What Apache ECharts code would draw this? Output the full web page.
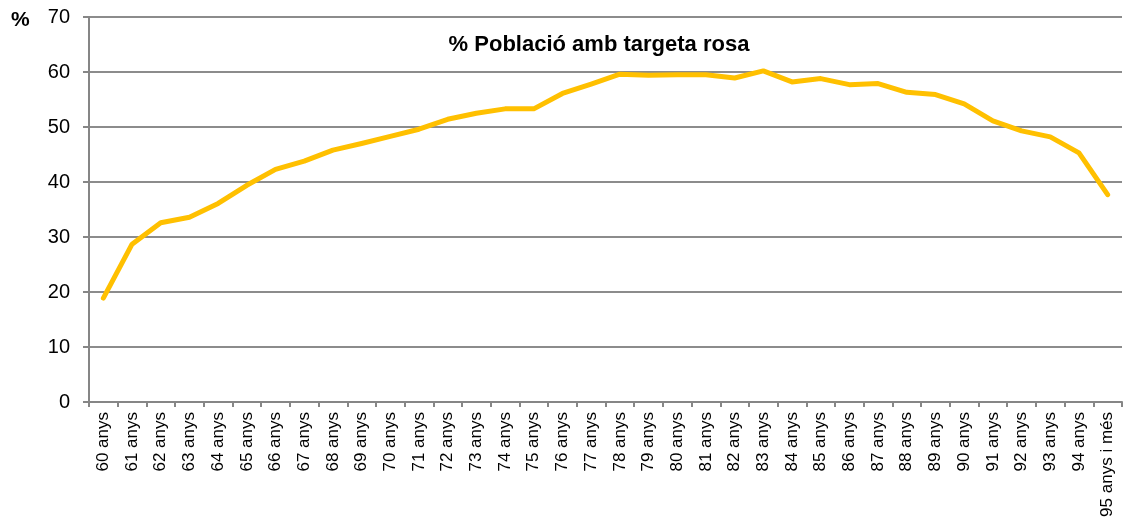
<!DOCTYPE html>
<html>
<head>
<meta charset="utf-8">
<script src="https://cdn.jsdelivr.net/npm/echarts@6/dist/echarts.min.js"></script>
<style>
html,body{margin:0;padding:0;background:#fff;}
#chart{width:1123px;height:528px;}
</style>
</head>
<body>
<div id="chart"></div>
<script>
const categories = ['60 anys','61 anys','62 anys','63 anys','64 anys','65 anys','66 anys','67 anys','68 anys','69 anys',
  '70 anys','71 anys','72 anys','73 anys','74 anys','75 anys','76 anys','77 anys','78 anys','79 anys',
  '80 anys','81 anys','82 anys','83 anys','84 anys','85 anys','86 anys','87 anys','88 anys','89 anys',
  '90 anys','91 anys','92 anys','93 anys','94 anys','95 anys i més'];
const values = [18.9, 28.7, 32.6, 33.6, 36.1, 39.4, 42.3, 43.8, 45.8, 47.0,
  48.3, 49.6, 51.4, 52.5, 53.3, 53.3, 56.1, 57.8, 59.6, 59.4,
  59.5, 59.5, 58.9, 60.2, 58.2, 58.8, 57.7, 57.9, 56.3, 55.9,
  54.2, 51.1, 49.3, 48.2, 45.3, 37.7];
const titleText = '% Població amb targeta rosa';
const yUnit = '%';
const yMin = 0, yMax = 70, yStep = 10;

const font = '"Liberation Sans", Arial, sans-serif';
const chart = echarts.init(document.getElementById('chart'), null, {renderer: 'canvas'});
chart.setOption({
  animation: false,
  backgroundColor: '#ffffff',
  title: {
    text: titleText,
    left: 599,
    textAlign: 'center',
    top: 34,
    padding: 0,
    textStyle: {fontFamily: font, fontSize: 22, fontWeight: 'bold', color: '#000'}
  },
  graphic: [{
    type: 'text',
    left: 11,
    top: 10,
    style: {text: yUnit, fontFamily: font, fontSize: 21, fontWeight: 'bold', fill: '#000'}
  }],
  grid: {left: 89, right: 1, top: 17, bottom: 126, containLabel: false},
  xAxis: {
    type: 'category',
    data: categories,
    boundaryGap: true,
    axisLine: {show: true, lineStyle: {color: '#868686', width: 2}},
    axisTick: {show: true, alignWithLabel: false, length: 5, lineStyle: {color: '#868686', width: 2}},
    axisLabel: {rotate: 90, interval: 0, margin: 10, fontFamily: font, fontSize: 17, color: '#000'},
    splitLine: {show: false}
  },
  yAxis: {
    type: 'value',
    min: yMin, max: yMax, interval: yStep,
    axisLine: {show: true, lineStyle: {color: '#868686', width: 2}},
    axisTick: {show: true, length: 6, lineStyle: {color: '#868686', width: 2}},
    axisLabel: {margin: 19, fontFamily: font, fontSize: 20, color: '#000'},
    splitLine: {show: true, lineStyle: {color: '#8c8c8c', width: 2}}
  },
  series: [{
    type: 'line',
    data: values,
    showSymbol: false,
    symbol: 'none',
    lineStyle: {color: '#FFC000', width: 5, cap: 'round', join: 'round'},
    itemStyle: {color: '#FFC000'}
  }]
});
</script>
</body>
</html>
